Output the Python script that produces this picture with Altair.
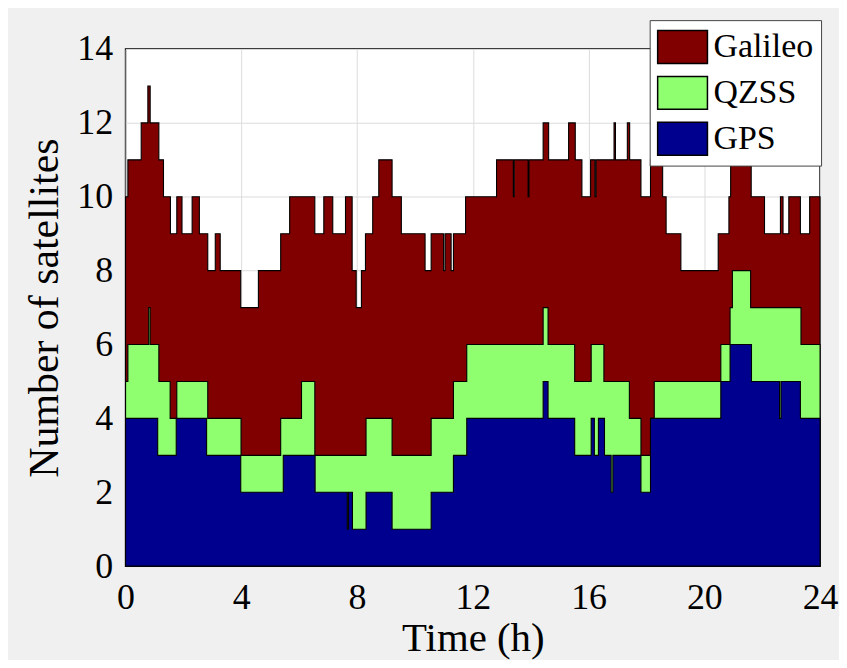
import altair as alt
import pandas as pd

# ---- data (step change points, hours) ----
series_names = ["Galileo", "QZSS", "GPS"]
series_colors = ["#800000", "#8FFF70", "#00008F"]

# number of GPS satellites
gps_t = [0, 1.11, 1.75, 2.80, 3.98, 5.45, 6.55, 7.66, 7.70, 7.84, 8.31, 9.21, 10.56,
         11.33, 11.79, 14.43, 14.60, 15.52, 16.09, 16.20, 16.34, 16.55, 16.78, 16.84,
         17.81, 18.14, 20.57, 20.89, 21.63, 22.60, 22.65, 23.32, 24]
gps_n = [4, 3, 4, 3, 2, 3, 2, 1, 2, 1, 2, 1, 2,
         3, 4, 5, 4, 3, 4, 3, 4, 3, 2, 3,
         2, 4, 5, 6, 5, 4, 5, 4, 4]

# GPS + QZSS (top of the QZSS band)
qzss_t = [0, 0.08, 0.80, 0.85, 1.15, 1.54, 1.77, 2.84, 3.99, 5.36, 6.08, 6.54,
          8.31, 9.21, 10.56, 11.33, 11.79, 14.43, 14.60, 15.52, 16.09, 16.53,
          17.41, 17.81, 18.14, 18.27, 20.57, 20.89, 20.97, 21.60, 23.34, 24]
qzss_top = [5, 6, 7, 6, 5, 4, 5, 4, 3, 4, 5, 3,
            4, 3, 4, 5, 6, 7, 6, 5, 6, 5,
            4, 3, 4, 5, 6, 7, 8, 7, 6, 6]

# GPS + QZSS + Galileo (top of the Galileo band)
gal_t = [0, 0.08, 0.54, 0.77, 0.85, 1.15, 1.31, 1.55, 1.77, 1.95, 2.30, 2.55, 2.84,
         3.10, 3.27, 3.98, 4.59, 5.36, 5.67, 6.54, 6.85, 7.16, 7.60, 7.83, 7.97,
         8.15, 8.29, 8.54, 8.75, 9.21, 9.53, 10.35, 10.56, 10.99, 11.04, 11.25,
         11.33, 11.75, 12.82, 13.40, 13.43, 13.91, 13.94, 14.43, 14.62, 15.31,
         15.54, 15.77, 16.07, 16.22, 16.26, 16.88, 16.93, 17.34, 17.42, 17.81,
         18.14, 18.56, 18.68, 19.19, 20.48, 20.85, 20.91, 21.62, 22.08, 22.63,
         22.72, 22.92, 23.32, 23.64, 24]
gal_top = [10, 11, 12, 13, 12, 11, 10, 9, 10, 9, 10, 9, 8,
           9, 8, 7, 8, 9, 10, 9, 10, 9, 10, 8, 7,
           8, 9, 10, 11, 10, 9, 8, 9, 8, 9, 8,
           9, 10, 11, 10, 11, 10, 11, 12, 11, 12,
           11, 10, 11, 10, 11, 12, 11, 12, 11, 10,
           11, 10, 9, 8, 9, 10, 11, 10, 9, 10,
           9, 10, 9, 10, 10]

x_ticks = [0, 4, 8, 12, 16, 20, 24]
y_ticks = [0, 2, 4, 6, 8, 10, 12, 14]

rows = []
for name, ts, vs in [("Galileo", gal_t, gal_top), ("QZSS", qzss_t, qzss_top), ("GPS", gps_t, gps_n)]:
    for t, v in zip(ts, vs):
        rows.append({"t": t, "n": v, "series": name})
df = pd.DataFrame(rows)

FONT = "Liberation Serif, Times New Roman, serif"
PLOT_W = 697
PLOT_H = 519

x = alt.X("t:Q",
          scale=alt.Scale(domain=[0, 24], nice=False, zero=False),
          axis=alt.Axis(values=x_ticks, title="Time (h)", labelFont=FONT, labelFontSize=36,
                        labelColor="black", labelPadding=14, ticks=False, tickSize=0,
                        domain=False, grid=True, gridColor="#dcdcdc", labelFlush=False,
                        titleFont=FONT, titleFontSize=41, titleFontWeight="normal",
                        titleColor="black", titleY=85, titleBaseline="alphabetic"))
y = alt.Y("n:Q", stack=None,
          scale=alt.Scale(domain=[0, 14], nice=False),
          axis=alt.Axis(values=y_ticks, title="Number of satellites", labelFont=FONT,
                        labelFontSize=36, labelColor="black", labelPadding=13, ticks=False,
                        tickSize=0, domain=False, grid=True, gridColor="#dcdcdc",
                        labelFlush=False, titleFont=FONT, titleFontSize=42,
                        titleFontWeight="normal", titleColor="black", titleX=-68,
                        titleY=PLOT_H / 2, titleAngle=270, titleBaseline="alphabetic",
                        titleAlign="center"))
color = alt.Color("series:N",
                  scale=alt.Scale(domain=series_names, range=series_colors),
                  sort=series_names,
                  legend=alt.Legend(title=None, orient="none", legendX=526, legendY=-29,
                                    symbolType="M-1,-0.87L1.63,-0.87L1.63,0.87L-1,0.87Z",
                                    symbolSize=1444, symbolStrokeColor="black",
                                    symbolStrokeWidth=1.5, symbolOpacity=1,
                                    labelFont=FONT, labelFontSize=34, labelColor="black",
                                    labelOffset=17, fillColor="white", strokeColor="#444444",
                                    padding=7, rowPadding=6))


def band(name):
    return (alt.Chart(df)
            .transform_filter(alt.datum.series == name)
            .mark_area(interpolate="step-after", stroke="black", strokeWidth=1.1,
                       fillOpacity=1, opacity=1)
            .encode(x=x, y=y, color=color))


chart = (alt.layer(band("Galileo"), band("QZSS"), band("GPS"))
         .properties(width=PLOT_W, height=PLOT_H, background="#f0f0f0",
                     padding={"left": 118, "top": 40, "right": 19, "bottom": 93},
                     autosize=alt.AutoSizeParams(type="none"))
         .configure_view(stroke="black", strokeWidth=1.5, fill="white"))

chart.save("out.html", embed_options={"renderer": "svg", "actions": False})
